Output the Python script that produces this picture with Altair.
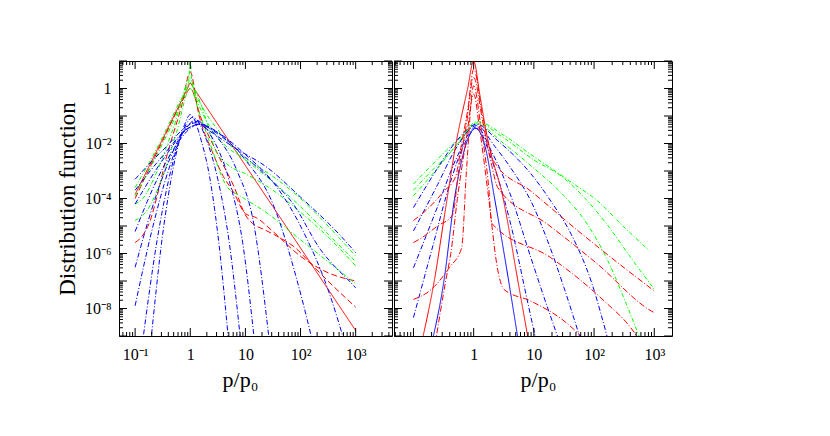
import altair as alt
import pandas as pd

# ---------------- values: (log10 p/p0, log10 f) ----------------
# Left panel
L_RS = [(-1, -3.85), (-0.75, -2.84), (-0.5, -1.83), (-0.25, -0.81), (-0.05, 0.0), (0, 0.2),
        (0.05, 0.05), (0.5, -1.3), (1, -2.8), (1.5, -4.3), (2, -5.8), (2.5, -7.3), (3, -8.8)]
L_RD1 = [(-1, -5.6), (-0.87, -5.36), (-0.73, -4.82), (-0.6, -3.9), (-0.45, -2.64), (-0.15, -0.58),
         (0, 0.6), (0.15, -0.9), (0.4, -2.3), (0.6, -3.2), (0.78, -3.75), (1.0, -4.55), (1.2, -4.7),
         (1.5, -5.2), (2.0, -6.1), (2.5, -6.7), (3.0, -7.0)]
L_RD2 = [(-1, -4.0), (-0.5, -1.9), (-0.1, -0.3), (0, 0.0), (0.2, -1.1), (0.5, -2.4), (0.8, -3.6),
         (1.0, -4.6), (1.15, -4.94), (1.33, -5.12), (1.6, -5.4), (1.88, -5.75), (2.25, -6.5),
         (2.6, -7.2), (3.0, -7.95)]
L_G1 = [(-1, -3.6), (-0.55, -1.96), (-0.2, -0.5), (-0.03, 0.2), (0, 1.0), (0.03, 0.2), (0.2, -0.6),
        (0.5, -1.5), (0.82, -2.27), (1.2, -2.8), (1.5, -3.2), (2.0, -4.0), (2.5, -5.0), (3.0, -6.1)]
L_G2 = [(-1, -4.2), (-0.86, -4.0), (-0.6, -3.0), (-0.3, -1.4), (0, 0.2), (0.18, -0.5), (0.48, -2.33),
        (0.7, -2.8), (1.0, -3.1), (1.5, -3.7), (2.0, -4.5), (2.5, -5.4), (3.0, -6.45)]
L_G3 = [(-1, -4.8), (-0.79, -4.45), (-0.5, -3.2), (-0.25, -1.6), (0, 0.0), (0.15, -0.8), (0.35, -1.95),
        (0.66, -3.55), (0.9, -3.9), (1.3, -4.4), (2.0, -5.5), (2.5, -6.3), (3.0, -7.1)]
L_G4 = [(-1, -3.9), (-0.5, -2.0), (-0.2, -0.7), (0, 0.4), (0.1, -0.3), (0.3, -1.2), (0.6, -2.0),
        (1.0, -2.6), (1.5, -3.4), (2.0, -4.3), (2.5, -5.3), (3.0, -6.3)]
L_B1 = [(-0.72, -9.3), (-0.5, -5.3), (-0.3, -2.8), (-0.1, -1.3), (0, -0.95), (0.2, -1.9), (0.35, -3.2),
        (0.5, -5.3), (0.7, -9.3)]
L_B2 = [(-0.87, -9.3), (-0.6, -5.5), (-0.4, -3.4), (-0.2, -1.9), (0.05, -1.05), (0.3, -1.9), (0.5, -3.3),
        (0.7, -5.5), (0.92, -9.3)]
L_B3 = [(-1, -7.9), (-0.7, -5.2), (-0.4, -3.0), (-0.15, -1.7), (0.1, -1.15), (0.4, -1.8), (0.7, -3.3),
        (0.95, -5.6), (1.17, -9.3)]
L_B4 = [(-1, -6.5), (-0.7, -4.4), (-0.4, -2.7), (-0.1, -1.5), (0.1, -1.2), (0.5, -1.8), (0.85, -3.0),
        (1.15, -4.9), (1.44, -9.3)]
L_B5 = [(-1, -5.2), (-0.6, -3.3), (-0.3, -2.2), (0, -1.45), (0.15, -1.3), (0.6, -1.75), (1.0, -2.6),
        (1.5, -4.2), (1.94, -7.0), (2.23, -9.3)]
L_B6 = [(-1, -4.2), (-0.5, -2.6), (0, -1.4), (0.15, -1.3), (0.5, -1.6), (1.0, -2.4), (1.5, -3.4),
        (2.0, -5.0), (2.54, -7.55), (2.81, -9.3)]
L_B7 = [(-1, -3.7), (-0.5, -2.45), (0, -1.4), (0.15, -1.3), (0.5, -1.65), (1.0, -2.5), (1.4, -3.2),
        (1.85, -4.15), (2.36, -5.85), (2.94, -7.12), (3.0, -7.25)]
L_B8 = [(-1, -3.3), (-0.5, -2.25), (0.1, -1.25), (0.35, -1.55), (0.8, -2.15), (1.4, -2.88),
        (2.0, -3.95), (2.7, -5.3), (3.0, -5.97)]

# Right panel
R_RS = [(-0.87, -9.3), (-0.65, -6.94), (-0.46, -4.27), (-0.29, -1.96), (-0.1, 0.0), (0, 1.0),
        (0.1, -0.2), (0.23, -1.84), (0.48, -3.9), (0.73, -6.94), (0.92, -9.3)]
R_BS = [(-0.70, -9.3), (-0.49, -6.94), (-0.32, -4.03), (-0.15, -2.2), (0.03, -1.45), (0.2, -2.2),
        (0.34, -3.9), (0.54, -6.45), (0.75, -9.3)]
R_B1 = [(-1, -4.33), (-0.6, -2.9), (-0.3, -1.95), (0.05, -1.3), (0.4, -1.9), (0.7, -2.5), (0.95, -3.1),
        (1.28, -4.09), (1.62, -5.3), (1.95, -7.0), (2.25, -9.3)]
R_B2 = [(-1, -5.18), (-0.6, -3.5), (-0.3, -2.2), (0.05, -1.35), (0.35, -2.1), (0.65, -3.0), (0.95, -4.09),
        (1.23, -5.55), (1.5, -7.24), (1.8, -9.3)]
R_B3 = [(-1, -6.52), (-0.6, -4.3), (-0.3, -2.6), (0.05, -1.4), (0.3, -2.3), (0.6, -3.8), (0.95, -6.15),
        (1.17, -7.6), (1.44, -9.3)]
R_B4 = [(-1, -8.33), (-0.7, -5.9), (-0.4, -3.5), (-0.15, -2.0), (0.05, -1.45), (0.3, -2.6), (0.6, -4.8),
        (0.9, -7.8), (1.05, -9.3)]
R_G1 = [(-1, -3.47), (-0.76, -2.93), (-0.43, -2.2), (-0.21, -1.77), (0.05, -1.2), (0.5, -1.7),
        (0.95, -2.4), (1.23, -2.82), (1.67, -3.48), (2.06, -4.09), (2.45, -4.94), (2.92, -5.9)]
R_G2 = [(-1, -3.7), (-0.7, -3.0), (-0.4, -2.35), (-0.2, -1.85), (0.05, -1.25), (0.5, -1.8), (1.0, -2.6),
        (1.45, -3.18), (1.84, -3.97), (2.2, -4.9), (2.61, -6.15), (3.0, -7.3)]
R_G3 = [(-1, -3.9), (-0.6, -2.9), (-0.3, -2.1), (0.05, -1.3), (0.5, -2.0), (1.0, -2.9), (1.5, -3.9),
        (1.89, -4.94), (2.23, -6.27), (2.56, -7.97), (2.8, -9.3)]
R_R1 = [(-1, -4.8), (-0.8, -4.45), (-0.5, -3.75), (-0.3, -3.2), (-0.2, -2.0), (-0.1, -0.8), (0, 0.7),
        (0.15, -1.0), (0.35, -2.7), (0.95, -3.73), (1.67, -5.06), (2.5, -6.52), (3.0, -7.36)]
R_R2 = [(-1, -5.6), (-0.9, -5.48), (-0.6, -5.0), (-0.35, -4.6), (-0.25, -3.0), (-0.12, -1.3), (0, 0.4),
        (0.15, -1.2), (0.3, -2.8), (0.4, -3.6), (1.23, -4.94), (2.06, -6.39), (2.95, -8.09), (3.0, -8.15)]
R_R3 = [(-1, -7.67), (-0.7, -7.3), (-0.4, -6.5), (-0.2, -5.8), (-0.12, -3.0), (0, 0.1), (0.12, -1.4),
        (0.25, -3.6), (0.3, -4.9), (1.28, -6.15), (2.17, -7.73), (2.61, -8.7), (2.8, -9.3)]
R_R4 = [(-0.64, -9.3), (-0.46, -6.94), (-0.38, -6.0), (-0.27, -4.0), (-0.12, -1.8), (0, -0.2),
        (0.1, -1.5), (0.25, -4.0), (0.4, -6.6), (0.5, -7.3), (0.95, -7.73), (1.5, -8.45), (1.92, -9.3)]

# tick labels
Y_TICKS = [1, 1e-2, 1e-4, 1e-6, 1e-8]
Y_LABELS = ["1", "10\u207b\u00b2", "10\u207b\u2074", "10\u207b\u2076", "10\u207b\u2078"]
XL_TICKS = [0.1, 1, 10, 100, 1000]
XL_LABELS = ["10\u207b\u00b9", "1", "10", "10\u00b2", "10\u00b3"]
XR_TICKS = [1, 10, 100, 1000]
XR_LABELS = ["1", "10", "10\u00b2", "10\u00b3"]

RED, GREEN, BLUE = "#ff0000", "#00ff00", "#0000ff"

LEFT = [("RS", L_RS, RED, "solid"), ("RD1", L_RD1, RED, "dash"), ("RD2", L_RD2, RED, "dash"),
        ("G1", L_G1, GREEN, "gdd"), ("G2", L_G2, GREEN, "gdd"), ("G3", L_G3, GREEN, "gdd"),
        ("G4", L_G4, GREEN, "gdd"),
        ("B1", L_B1, BLUE, "bdd"), ("B2", L_B2, BLUE, "bdd"), ("B3", L_B3, BLUE, "bdd"),
        ("B4", L_B4, BLUE, "bdd"), ("B5", L_B5, BLUE, "bdd"), ("B6", L_B6, BLUE, "bdd"),
        ("B7", L_B7, BLUE, "bdd"), ("B8", L_B8, BLUE, "bdd")]
RIGHT = [("G1", R_G1, GREEN, "gdd"), ("G2", R_G2, GREEN, "gdd"), ("G3", R_G3, GREEN, "gdd"),
         ("B1", R_B1, BLUE, "bdd"), ("B2", R_B2, BLUE, "bdd"), ("B3", R_B3, BLUE, "bdd"),
         ("B4", R_B4, BLUE, "bdd"), ("BS", R_BS, BLUE, "solid"),
         ("R1", R_R1, RED, "rdd"), ("R2", R_R2, RED, "rdd"), ("R3", R_R3, RED, "rdd"),
         ("R4", R_R4, RED, "rdd"), ("RS", R_RS, RED, "solid")]

DASH_DOMAIN = ["solid", "dash", "rdd", "gdd", "bdd"]
DASH_RANGE = [[1, 0], [6, 3], [6, 2, 1, 2], [4, 2, 1, 2], [5, 2, 1, 2]]

YDOM = [1e-9, 10]
H = 275
FONT = "Liberation Serif"


def frame(curves):
    rows = []
    for i, (name, pts, col, dash) in enumerate(curves):
        for u, lf in pts:
            rows.append({"curve": f"{i:02d}{name}", "p": 10 ** u, "f": 10 ** lf,
                         "color": col, "dash": dash})
    return pd.DataFrame(rows)


def tick_values(lo, hi):
    major, minor = [], []
    for k in range(-10, 5):
        for m in range(1, 10):
            v = m * 10.0 ** k
            if lo <= v <= hi:
                (major if m == 1 else minor).append(v)
    return major, minor


def lab_expr(vals, labs):
    return "[" + ",".join(f"'{s}'" for s in labs) + "][indexof([" + \
        ",".join(repr(v) for v in vals) + "], datum.value)]"


def panel(curves, xdom, width, xt, xl, show_y, title_x):
    xs = alt.Scale(type="log", domain=xdom, nice=False)
    ys = alt.Scale(type="log", domain=YDOM, nice=False)
    xaxis = alt.Axis(values=xt, labelExpr=lab_expr(xt, xl), ticks=False, domain=False, grid=False,
                     labelFont=FONT, labelFontSize=16, labelPadding=10, labelColor="black",
                     title="p/p\u2080", titleFont=FONT, titleFontSize=22, titleFontWeight="normal",
                     titlePadding=7, titleColor="black", titleX=title_x,
                     labelFlush=False, labelOverlap=False)
    if show_y:
        yaxis = alt.Axis(values=Y_TICKS, labelExpr=lab_expr(Y_TICKS, Y_LABELS), ticks=False,
                         domain=False, grid=False, labelFont=FONT, labelFontSize=16, labelPadding=8,
                         labelColor="black", title="Distribution function", titleFont=FONT,
                         titleFontSize=23, titleFontWeight="normal", titlePadding=5,
                         titleColor="black", labelFlush=False, labelOverlap=False)
    else:
        yaxis = None
    lines = alt.Chart(frame(curves)).mark_line(clip=True, strokeWidth=1, interpolate="monotone").encode(
        x=alt.X("p:Q", scale=xs, axis=xaxis),
        y=alt.Y("f:Q", scale=ys, axis=yaxis),
        color=alt.Color("color:N", scale=None),
        strokeDash=alt.StrokeDash("dash:N", scale=alt.Scale(domain=DASH_DOMAIN, range=DASH_RANGE),
                                  legend=None),
        detail="curve:N",
    )
    layers = [lines]
    xmaj, xmin = tick_values(*xdom)
    ymaj, ymin = tick_values(*YDOM)
    for vals, ln in ((xmaj, 8), (xmin, 4)):
        d = pd.DataFrame({"p": vals})
        base = alt.Chart(d).mark_rule(color="black", strokeWidth=1)
        layers.append(base.encode(x=alt.X("p:Q", scale=xs, axis=xaxis), y=alt.value(H), y2=alt.value(H - ln)))
        layers.append(base.encode(x=alt.X("p:Q", scale=xs, axis=xaxis), y=alt.value(0), y2=alt.value(ln)))
    for vals, ln in ((ymaj, 8), (ymin, 4)):
        d = pd.DataFrame({"f": vals})
        base = alt.Chart(d).mark_rule(color="black", strokeWidth=1)
        layers.append(base.encode(y=alt.Y("f:Q", scale=ys, axis=yaxis), x=alt.value(0), x2=alt.value(ln)))
        layers.append(base.encode(y=alt.Y("f:Q", scale=ys, axis=yaxis), x=alt.value(width), x2=alt.value(width - ln)))
    return alt.layer(*layers).properties(width=width, height=H)


left = panel(LEFT, [0.051, 4560], 273, XL_TICKS, XL_LABELS, True, 121)
right = panel(RIGHT, [0.0475, 1970], 278, XR_TICKS, XR_LABELS, False, 144)

chart = alt.hconcat(left, right, spacing=0).properties(
    padding={"left": 47, "top": 52, "right": 5, "bottom": 5}
).configure(background="white").configure_view(stroke="black", strokeWidth=1)

chart.save("out.html", embed_options={"renderer": "svg", "actions": False})
